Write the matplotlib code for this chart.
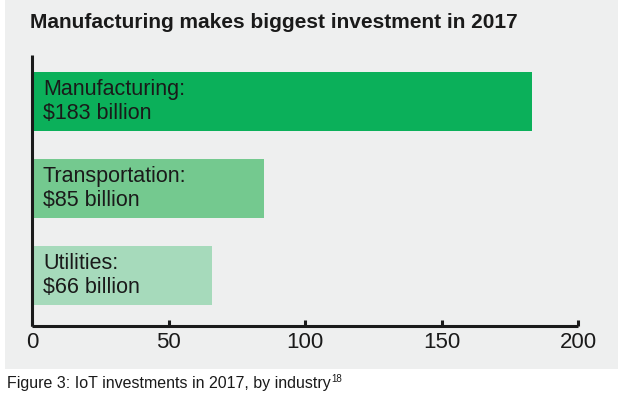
import matplotlib
matplotlib.use("Agg")
import matplotlib.pyplot as plt
from matplotlib.patches import Rectangle

categories = ["Utilities", "Transportation", "Manufacturing"]
values = [66, 85, 183]
bar_labels = ["Utilities:\n$66 billion", "Transportation:\n$85 billion", "Manufacturing:\n$183 billion"]
colors = ["#a6dabb", "#74c98f", "#0bb05a"]
xticks = [0, 50, 100, 150, 200]

title = "Manufacturing makes biggest investment in 2017"
caption = "Figure 3: IoT investments in 2017, by industry"
caption_sup = "18"

plt.rcParams['font.family'] = ['Liberation Sans', 'DejaVu Sans']
dark = "#1a1a1a"
bg = "#eeefef"

fig = plt.figure(figsize=(6.25, 3.96), dpi=100, facecolor="white")
fig.patches.append(Rectangle((5/625, 27/396), 613/625, 369/396, transform=fig.transFigure,
                             facecolor=bg, edgecolor="none", zorder=-10))

ax = fig.add_axes([32/625, 70/396, 546/625, 271/396])
ax.set_facecolor("none")
ypos = list(range(len(values)))
ax.barh(ypos, values, height=0.68, color=colors, zorder=2)
for y, lab in zip(ypos, bar_labels):
    ax.text(4, y, lab, ha="left", va="center", fontsize=15.5, color=dark,
            linespacing=1.2, zorder=3)

ax.set_xlim(0, 200)
ax.set_ylim(-0.58, 2.53)
ax.set_yticks([])
ax.set_xticks(xticks)
ax.set_xticklabels([str(t) for t in xticks], fontsize=16, color=dark)
ax.tick_params(axis="x", direction="in", length=4, width=2.2, color=dark, pad=4)
for s in ["top", "right"]:
    ax.spines[s].set_visible(False)
for s in ["left", "bottom"]:
    ax.spines[s].set_linewidth(2.2)
    ax.spines[s].set_color(dark)
    ax.spines[s].set_capstyle("butt")

fig.text(30/625, 1 - 28/396, title, fontsize=15, fontweight="bold", color=dark,
         ha="left", va="baseline")
cap = fig.text(7/625, 1 - 388/396, caption, fontsize=11.5, color=dark, ha="left",
               va="baseline")
r = fig.canvas.get_renderer()
bb = cap.get_window_extent(r)
fig.text((bb.x1 + 0.5) / 625, 1 - 382/396, caption_sup, fontsize=7, color=dark,
         ha="left", va="baseline")

fig.savefig("out.png", dpi=100, facecolor="white")
